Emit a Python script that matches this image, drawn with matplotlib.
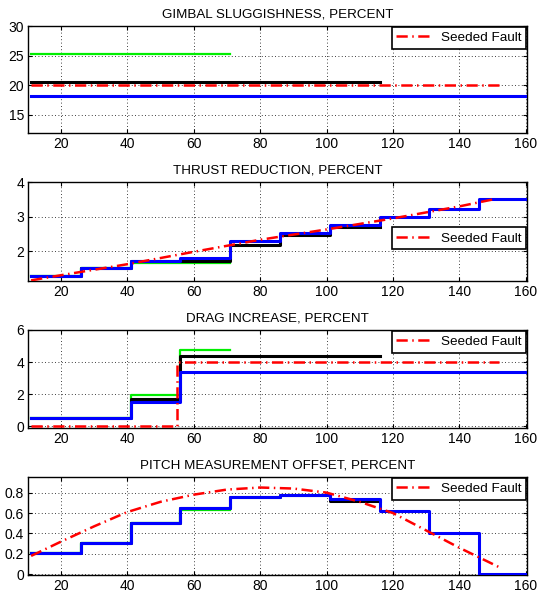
import matplotlib
matplotlib.use('Agg')
import matplotlib.pyplot as plt

# ----- values -----
# estimate update times (each estimate holds until the next update)
step_times = [11, 26, 41, 56, 71, 86, 101, 116, 131, 146]
green_end, black_end, blue_end = 71, 116, 161

gimbal_green = [25.3] * 4
gimbal_black = [20.6] * 7
gimbal_blue = [18.2] * 10
gimbal_fault_x = [11, 152]
gimbal_fault_y = [20, 20]

thrust_green = [1.27, 1.50, 1.66, 1.66]
thrust_black = [1.27, 1.50, 1.70, 1.71, 2.19, 2.47, 2.69]
thrust_blue = [1.27, 1.51, 1.72, 1.80, 2.29, 2.54, 2.76, 3.00, 3.23, 3.52]
thrust_fault_x = [11, 20, 40, 60, 80, 100, 120, 140, 151]
thrust_fault_y = [1.15, 1.30, 1.62, 1.98, 2.33, 2.63, 2.95, 3.30, 3.52]

drag_green = [0.5, 0.5, 1.95, 4.75]
drag_black = [0.5, 0.5, 1.70, 4.40, 4.40, 4.40, 4.40]
drag_blue = [0.5, 0.5, 1.50, 3.35, 3.35, 3.35, 3.35, 3.35, 3.35, 3.35]
drag_fault_x = [11, 55, 55, 152]
drag_fault_y = [0, 0, 4, 4]

pitch_green = [0.21, 0.31, 0.50, 0.63]
pitch_black = [0.21, 0.31, 0.50, 0.65, 0.76, 0.78, 0.72]
pitch_blue = [0.21, 0.31, 0.50, 0.65, 0.76, 0.78, 0.74, 0.62, 0.40, 0.0]
pitch_fault_x = [11, 20, 30, 40, 50, 60, 70, 80, 90, 100, 110, 120, 130, 140, 152]
pitch_fault_y = [0.18, 0.32, 0.47, 0.61, 0.71, 0.78, 0.83, 0.85, 0.84, 0.80, 0.71, 0.60, 0.43, 0.26, 0.07]

panels = [
    ('GIMBAL SLUGGISHNESS, PERCENT', gimbal_green, gimbal_black, gimbal_blue,
     gimbal_fault_x, gimbal_fault_y, (12, 30), [15, 20, 25, 30], 1.0),
    ('THRUST REDUCTION, PERCENT', thrust_green, thrust_black, thrust_blue,
     thrust_fault_x, thrust_fault_y, (1.14, 4), [2, 3, 4], 0.549),
    ('DRAG INCREASE, PERCENT', drag_green, drag_black, drag_blue,
     drag_fault_x, drag_fault_y, (-0.1, 6), [0, 2, 4, 6], 1.0),
    ('PITCH MEASUREMENT OFFSET, PERCENT', pitch_green, pitch_black, pitch_blue,
     pitch_fault_x, pitch_fault_y, (-0.007, 0.95), [0, 0.2, 0.4, 0.6, 0.8], 1.0),
]

# axes boxes in figure fractions [left, bottom, width, height]
AX_POS = [
    [0.0527, 0.7770, 0.9281, 0.1793],
    [0.0527, 0.5282, 0.9281, 0.1654],
    [0.0527, 0.2812, 0.9281, 0.1642],
    [0.0527, 0.0336, 0.9281, 0.1642],
]

plt.rcParams['font.family'] = ['Liberation Sans', 'DejaVu Sans']


def step_xy(values, end):
    xs = step_times[:len(values)] + [end]
    ys = list(values) + [values[-1]]
    return xs, ys


def draw_panel(ax, title, green, black, blue, fx, fy, ylim, yticks, leg_top):
    x, y = step_xy(green, green_end)
    ax.step(x, y, where='post', color='#00ee00', lw=1.6, zorder=3)
    x, y = step_xy(black, black_end)
    ax.step(x, y, where='post', color='black', lw=2.2, zorder=4)
    x, y = step_xy(blue, blue_end)
    ax.step(x, y, where='post', color='#0000ff', lw=2.2, zorder=5)
    ax.plot(fx, fy, color='#ff0000', lw=1.8, dashes=(4.5, 1.8, 0.6, 1.8),
            label='Seeded Fault', zorder=6)

    ax.set_xlim(10.15, 160.3)
    ax.set_ylim(*ylim)
    ax.set_xticks(range(20, 161, 20))
    ax.set_yticks(yticks)
    ax.set_yticklabels([f'{t:g}' for t in yticks])
    ax.set_title(title, fontsize=9.6, pad=6)
    ax.grid(True, color='black', linestyle=(0, (1, 3)), linewidth=0.6)
    ax.tick_params(direction='in', length=3, top=True, right=True, labelsize=10, pad=3)
    for sp in ax.spines.values():
        sp.set_linewidth(1.0)

    leg = ax.legend(loc='upper right', bbox_to_anchor=(1.0, leg_top), borderaxespad=0.05,
                    fontsize=9.7, handlelength=2.7, borderpad=0.35, handletextpad=0.6,
                    fancybox=False, framealpha=1)
    leg.get_frame().set_edgecolor('black')
    leg.get_frame().set_linewidth(1.2)


def main():
    fig = plt.figure(figsize=(5.37, 5.95), dpi=100)
    for pos, panel in zip(AX_POS, panels):
        ax = fig.add_axes(pos)
        draw_panel(ax, *panel)
    fig.savefig('out.png', dpi=100)


if __name__ == '__main__':
    main()
